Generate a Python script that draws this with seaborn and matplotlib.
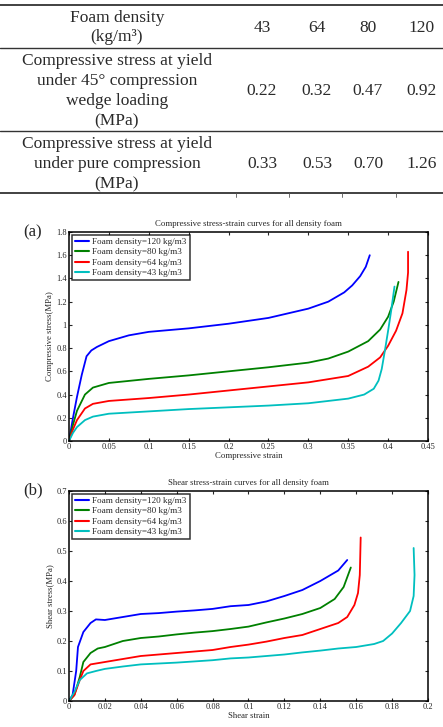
"""
Foam yield-stress table + stress-strain curves (compressive and shear)
for four foam densities.
"""

import matplotlib
matplotlib.use("Agg")
import matplotlib.pyplot as plt
from matplotlib.ticker import FuncFormatter, MultipleLocator
import pandas as pd
import seaborn as sns

sns.set_style("ticks")
plt.rcParams["font.family"] = ["Liberation Serif", "DejaVu Serif"]

# ---- table ----
densities = ["43", "64", "80", "120"]
yield_wedge = ["0.22", "0.32", "0.47", "0.92"]
yield_pure = ["0.33", "0.53", "0.70", "1.26"]
row_labels = [
    "Foam density\n(kg/m\u00b3)",
    "Compressive stress at yield\nunder 45\u00b0 compression\nwedge loading\n(MPa)",
    "Compressive stress at yield\nunder pure compression\n(MPa)",
]

# ---- curves ----
series = ["Foam density=120 kg/m3", "Foam density=80 kg/m3",
          "Foam density=64 kg/m3", "Foam density=43 kg/m3"]
colors = ["#0000ff", "#008000", "#ff0000", "#00bfbf"]

comp_strain_120 = [0, 0.005, 0.01, 0.016, 0.022, 0.028, 0.035, 0.05, 0.075, 0.1, 0.15, 0.2, 0.25,
                   0.3, 0.325, 0.345, 0.355, 0.365, 0.372, 0.377]
comp_stress_120 = [0, 0.2, 0.38, 0.57, 0.73, 0.78, 0.81, 0.86, 0.91, 0.94, 0.97, 1.01, 1.06,
                   1.14, 1.2, 1.28, 1.34, 1.42, 1.5, 1.6]
comp_strain_80 = [0, 0.005, 0.01, 0.02, 0.03, 0.05, 0.1, 0.15, 0.2, 0.25, 0.3, 0.325, 0.35,
                  0.375, 0.39, 0.4, 0.407, 0.413]
comp_stress_80 = [0, 0.14, 0.26, 0.4, 0.46, 0.5, 0.535, 0.565, 0.6, 0.635, 0.675, 0.71, 0.77,
                  0.86, 0.96, 1.07, 1.2, 1.37]
comp_strain_64 = [0, 0.005, 0.01, 0.02, 0.03, 0.05, 0.1, 0.15, 0.2, 0.25, 0.3, 0.35, 0.375,
                  0.39, 0.4, 0.41, 0.418, 0.423, 0.425, 0.425]
comp_stress_64 = [0, 0.1, 0.18, 0.28, 0.32, 0.345, 0.37, 0.4, 0.435, 0.47, 0.505, 0.56, 0.64,
                  0.72, 0.82, 0.95, 1.1, 1.3, 1.45, 1.63]
comp_strain_43 = [0, 0.005, 0.01, 0.02, 0.03, 0.05, 0.1, 0.15, 0.2, 0.25, 0.3, 0.35, 0.37,
                  0.382, 0.388, 0.392, 0.396, 0.4, 0.404, 0.408]
comp_stress_43 = [0, 0.07, 0.12, 0.18, 0.21, 0.235, 0.255, 0.275, 0.29, 0.305, 0.325, 0.365, 0.4,
                  0.45, 0.52, 0.62, 0.78, 0.95, 1.13, 1.33]

shear_strain_120 = [0, 0.002, 0.004, 0.005, 0.008, 0.012, 0.015, 0.02, 0.03, 0.04, 0.05, 0.06,
                    0.07, 0.08, 0.09, 0.1, 0.11, 0.12, 0.13, 0.14, 0.15, 0.155]
shear_stress_120 = [0, 0.02, 0.1, 0.18, 0.23, 0.26, 0.272, 0.27, 0.28, 0.29, 0.293, 0.298,
                    0.302, 0.307, 0.316, 0.32, 0.332, 0.35, 0.37, 0.4, 0.435, 0.47]
shear_strain_80 = [0, 0.003, 0.006, 0.008, 0.012, 0.016, 0.02, 0.03, 0.04, 0.05, 0.06, 0.07,
                   0.08, 0.09, 0.1, 0.11, 0.12, 0.13, 0.14, 0.148, 0.153, 0.157]
shear_stress_80 = [0, 0.02, 0.08, 0.13, 0.16, 0.175, 0.18, 0.2, 0.21, 0.215, 0.222, 0.228,
                   0.233, 0.24, 0.248, 0.262, 0.275, 0.29, 0.31, 0.34, 0.38, 0.445]
shear_strain_64 = [0, 0.003, 0.006, 0.008, 0.012, 0.02, 0.03, 0.04, 0.05, 0.06, 0.07, 0.08,
                   0.09, 0.1, 0.11, 0.12, 0.13, 0.14, 0.15, 0.155, 0.159, 0.161, 0.162, 0.1625]
shear_stress_64 = [0, 0.02, 0.07, 0.1, 0.122, 0.13, 0.14, 0.15, 0.155, 0.16, 0.165, 0.17,
                   0.18, 0.188, 0.198, 0.21, 0.22, 0.24, 0.26, 0.28, 0.32, 0.36, 0.42, 0.545]
shear_strain_43 = [0, 0.003, 0.006, 0.01, 0.015, 0.02, 0.03, 0.04, 0.05, 0.06, 0.07, 0.08,
                   0.09, 0.1, 0.11, 0.12, 0.13, 0.14, 0.15, 0.16, 0.17, 0.175, 0.18, 0.185,
                   0.19, 0.192, 0.1925, 0.192]
shear_stress_43 = [0, 0.03, 0.07, 0.092, 0.1, 0.107, 0.115, 0.122, 0.125, 0.128, 0.132, 0.136,
                   0.142, 0.145, 0.15, 0.155, 0.162, 0.168, 0.175, 0.18, 0.19, 0.2, 0.225, 0.26,
                   0.3, 0.35, 0.42, 0.51]


def _long(pairs):
    frames = []
    for name, (x, y) in zip(series, pairs):
        frames.append(pd.DataFrame({"strain": x, "stress": y, "foam": name}))
    return pd.concat(frames, ignore_index=True)


comp_df = _long([(comp_strain_120, comp_stress_120), (comp_strain_80, comp_stress_80),
                 (comp_strain_64, comp_stress_64), (comp_strain_43, comp_stress_43)])
shear_df = _long([(shear_strain_120, shear_stress_120), (shear_strain_80, shear_stress_80),
                  (shear_strain_64, shear_stress_64), (shear_strain_43, shear_stress_43)])

W, H = 443, 727
fig = plt.figure(figsize=(W / 100, H / 100), dpi=100)

# ---- table drawn in pixel coords ----
tab = fig.add_axes([0, 1 - 200 / H, 1, 200 / H])
tab.set_xlim(0, W)
tab.set_ylim(200, 0)
tab.axis("off")
for y, lw in [(5, 1.3), (48, 1.0), (131, 1.0), (193, 1.3)]:
    tab.axhline(y, color="#333333", lw=lw)
for x in [236, 289, 342, 396]:
    tab.plot([x, x], [193, 197], color="#555555", lw=0.6)

col_x = [262, 317, 368, 422]
row_y = [27.5, 91, 164]
rows = [densities, yield_wedge, yield_pure]
for label, y, vals in zip(row_labels, row_y, rows):
    tab.text(117, y, label, ha="center", va="center", fontsize=12.5,
             linespacing=1.33, color="#2a2a2a")
    for x, v in zip(col_x, vals):
        tab.text(x, y, v, ha="center", va="center", fontsize=12.5, color="#2a2a2a")


def _fmt(v, _):
    return f"{v:g}"


def _draw_curves(ax, data, xmax, xstep, ymax, ystep, title, xlabel, ylabel):
    sns.lineplot(data=data, x="strain", y="stress", hue="foam", hue_order=series,
                 palette=dict(zip(series, colors)), sort=False, estimator=None,
                 lw=1.3, ax=ax)
    ax.set_xlim(0, xmax)
    ax.set_ylim(0, ymax)
    ax.xaxis.set_major_locator(MultipleLocator(xstep))
    ax.yaxis.set_major_locator(MultipleLocator(ystep))
    ax.xaxis.set_major_formatter(FuncFormatter(_fmt))
    ax.yaxis.set_major_formatter(FuncFormatter(_fmt))
    ax.tick_params(direction="in", length=2.5, width=0.8, top=True, right=True,
                   labelsize=6, pad=1.5)
    for s in ax.spines.values():
        s.set_linewidth(1.1)
        s.set_color("black")
    ax.set_title(title, fontsize=6.3, pad=4)
    ax.set_xlabel(xlabel, fontsize=6.3, labelpad=0.5)
    ax.set_ylabel(ylabel, fontsize=6.3, labelpad=1.5)
    leg = ax.legend(loc="upper left", fontsize=6.6, frameon=True, fancybox=False,
                    borderaxespad=0.3, handlelength=1.6, handletextpad=0.35,
                    labelspacing=0.22, borderpad=0.3)
    leg.get_frame().set_edgecolor("black")
    leg.get_frame().set_linewidth(1.1)
    for line in leg.get_lines():
        line.set_linewidth(1.5)


ax_a = fig.add_axes([69 / W, 1 - 441 / H, 359 / W, 209 / H])
_draw_curves(ax_a, comp_df, 0.45, 0.05, 1.8, 0.2,
             "Compressive stress-strain curves for all density foam",
             "Compressive strain", "Compressive stress(MPa)")
fig.text(33 / W, 1 - 232 / H, "(a)", fontsize=12, ha="center", va="center")

ax_b = fig.add_axes([69 / W, 1 - 701 / H, 359 / W, 210 / H])
_draw_curves(ax_b, shear_df, 0.2, 0.02, 0.7, 0.1,
             "Shear stress-strain curves for all density foam",
             "Shear strain", "Shear stress(MPa)")
fig.text(33 / W, 1 - 490 / H, "(b)", fontsize=12, ha="center", va="center")

fig.savefig("out.png", dpi=100)
